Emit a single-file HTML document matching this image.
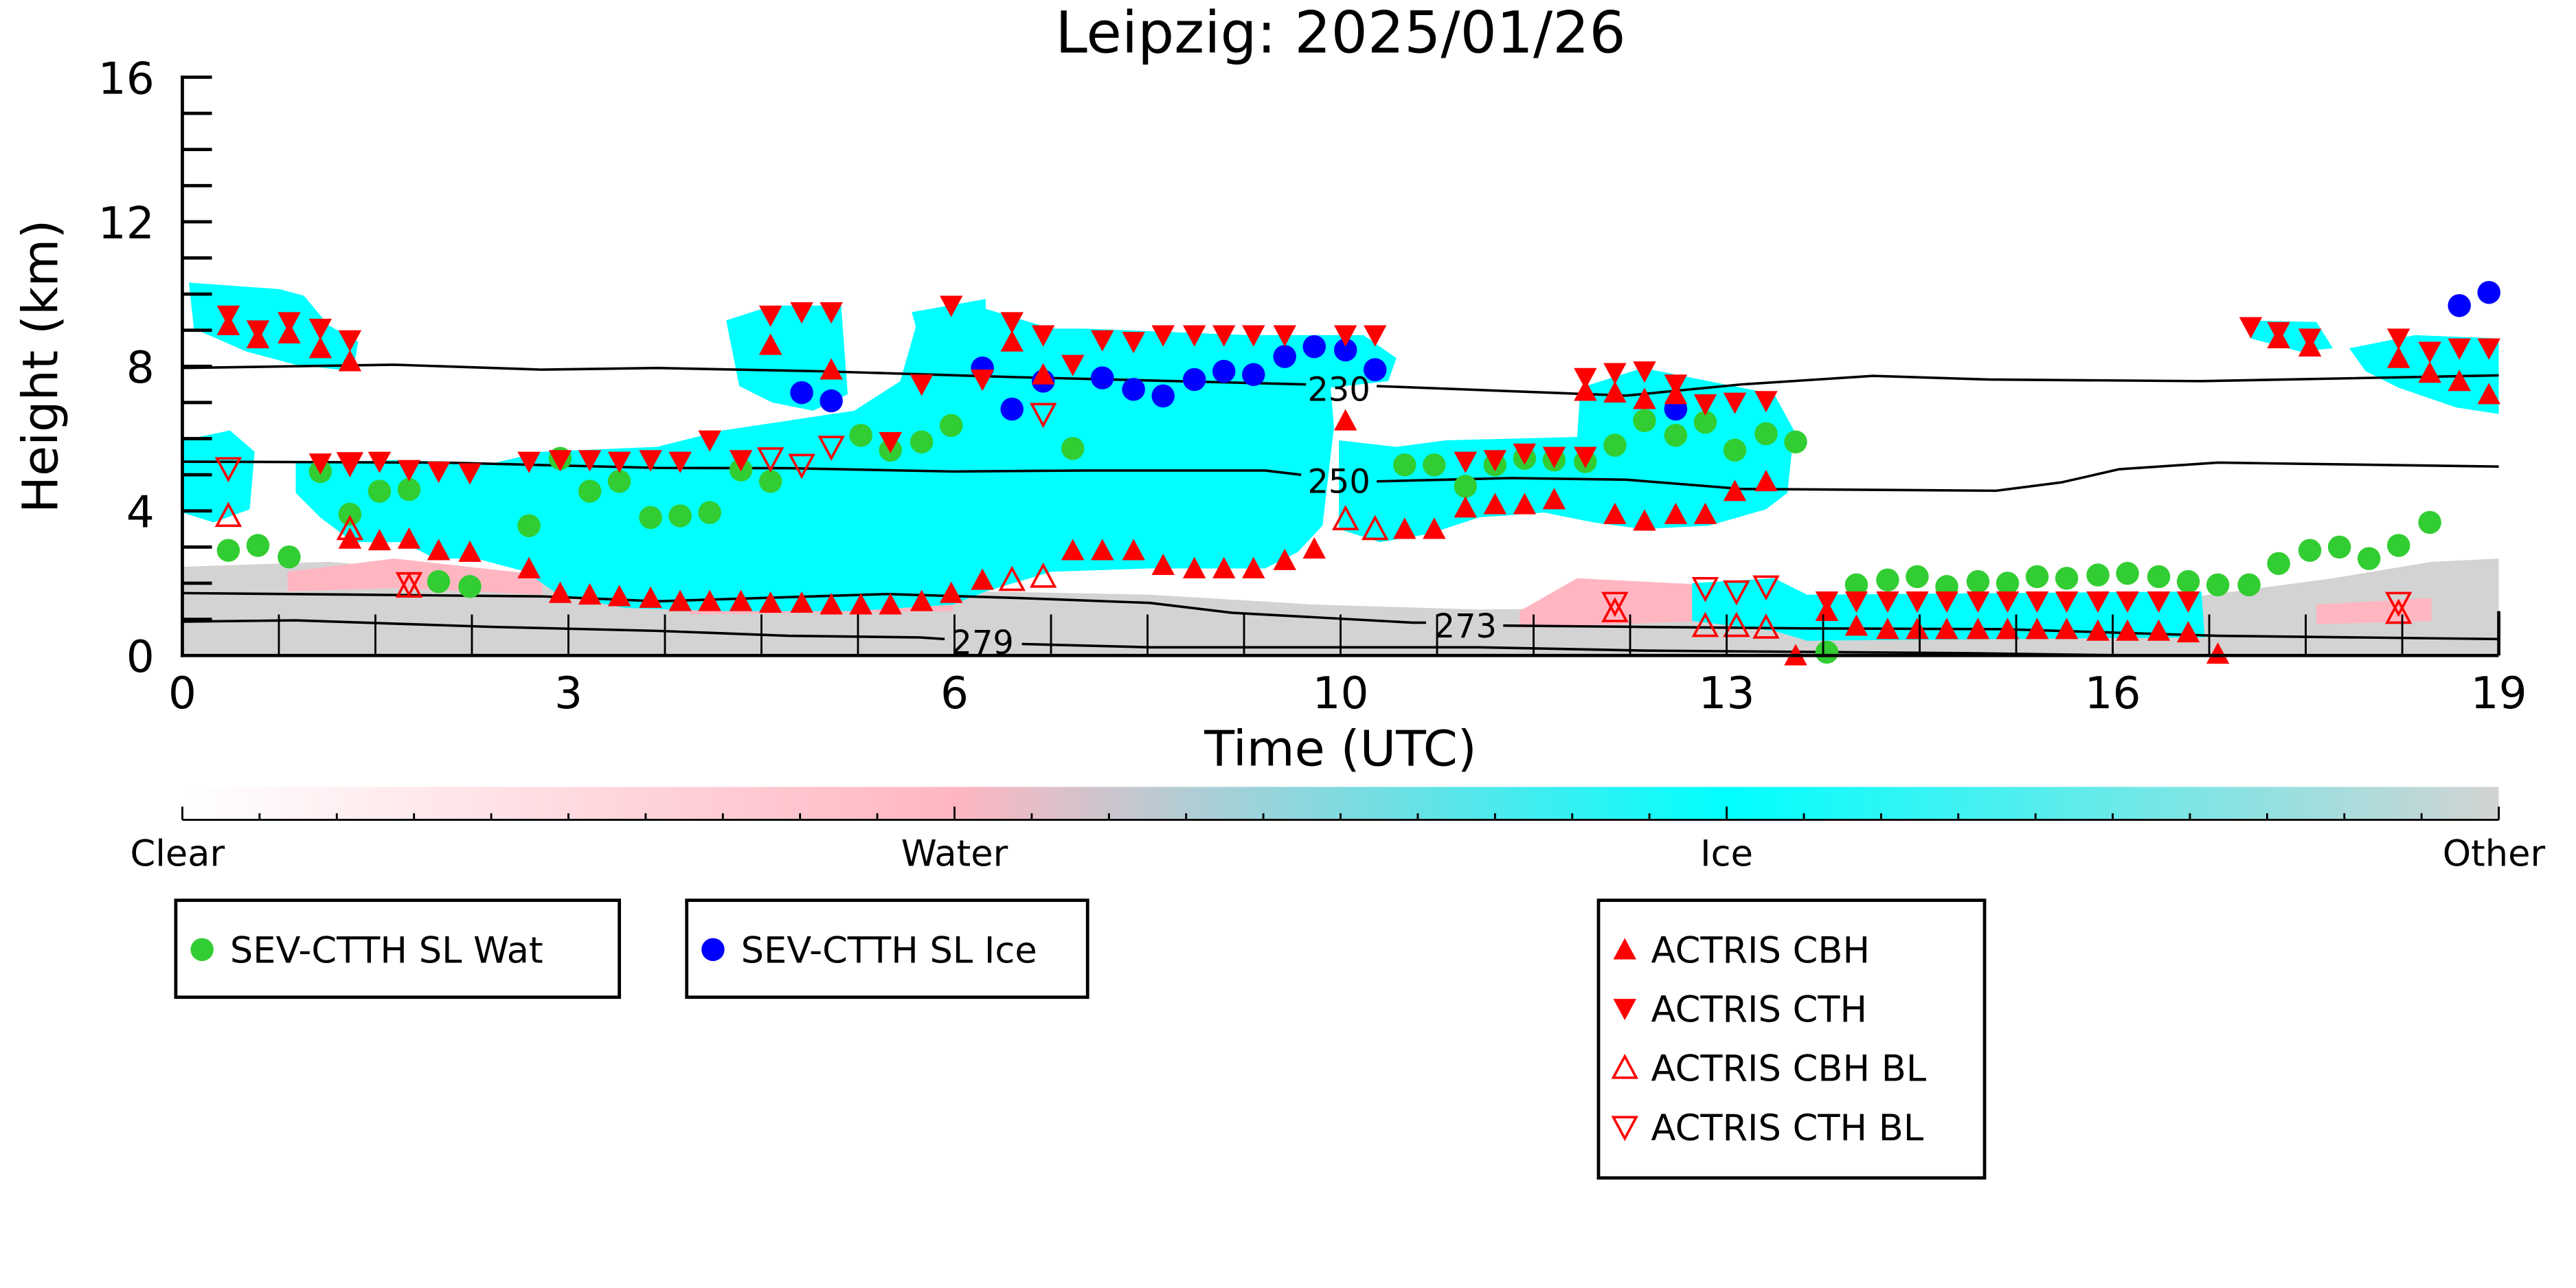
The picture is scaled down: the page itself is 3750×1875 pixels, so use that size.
<!DOCTYPE html>
<html><head><meta charset="utf-8"><style>
html,body{margin:0;padding:0;background:#fff}
svg{display:block}
text{font-family:"DejaVu Sans","Liberation Sans",sans-serif}
</style></head><body>
<svg width="3750" height="1875" viewBox="0 0 1568 784" xmlns="http://www.w3.org/2000/svg">
<defs>
<linearGradient id="cb" x1="0" x2="1" y1="0" y2="0">
<stop offset="0" stop-color="#ffffff"/>
<stop offset="0.333" stop-color="#ffb6c1"/>
<stop offset="0.667" stop-color="#00ffff"/>
<stop offset="1" stop-color="#d3d3d3"/>
</linearGradient>
<clipPath id="ax"><rect x="111" y="47" width="1410" height="352"/></clipPath>
<path id="up" d="M0,-7 L7,6 L-7,6 Z"/>
<path id="dn" d="M0,7 L7,-6 L-7,-6 Z"/>
</defs>
<text x="816" y="32" font-size="35" text-anchor="middle">Leipzig: 2025/01/26</text>
<g clip-path="url(#ax)">
<path fill="#d3d3d3" d="M111,345 L200,342 L300,350 L400,356 L500,362 L600,360 L700,362 L800,368 L900,371 L1000,370 L1100,372 L1200,370 L1300,368 L1360,360 L1420,352 L1480,342 L1521,340 L1521,399 L111,399 Z"/>
<path fill="#ffb6c1" d="M175,348 L240,340 L330,350 L330,362 L240,358 L175,360 Z"/>
<path fill="#ffb6c1" d="M420,356 L580,352 L580,372 L420,374 Z"/>
<path fill="#ffb6c1" d="M925,372 L960,352 L1040,356 L1040,378 L925,382 Z"/>
<path fill="#ffb6c1" d="M1090,368 L1340,366 L1340,380 L1090,384 Z"/>
<path fill="#ffb6c1" d="M1410,368 L1480,364 L1480,378 L1410,380 Z"/>
<g fill="#00ffff">
<path d="M115,172 L170,176 L185,180 L200,198 L218,208 L215,226 L180,222 L150,214 L118,200 Z"/>
<path d="M111,268 L140,262 L155,275 L152,310 L130,318 L111,312 Z"/>
<path d="M180,282 L240,280 L300,282 L330,275 L400,272 L440,262 L520,250 L548,232 L560,190 L600,188 L640,200 L660,200 L760,204 L830,204 L850,218 L845,232 L810,236 L812,260 L805,320 L790,336 L770,346 L700,346 L640,348 L600,360 L580,368 L520,372 L440,372 L380,370 L340,362 L320,348 L290,340 L265,340 L245,330 L215,330 L195,315 L180,300 Z"/>
<path d="M442,195 L470,186 L512,186 L516,240 L495,250 L470,245 L450,235 Z"/>
<path d="M555,190 L600,182 L600,200 L560,208 Z"/>
<path d="M815,268 L850,272 L880,268 L960,266 L962,236 L1000,224 L1040,232 L1080,240 L1092,262 L1088,300 L1075,310 L1040,320 L1000,322 L970,318 L940,312 L900,315 L870,325 L840,330 L815,322 Z"/>
<path d="M1030,355 L1080,352 L1100,362 L1340,360 L1342,388 L1100,390 L1080,384 L1030,378 Z"/>
<path d="M1430,212 L1470,204 L1521,206 L1521,252 L1495,248 L1460,236 L1440,226 Z"/>
<path d="M1365,195 L1410,196 L1420,212 L1400,214 L1370,206 Z"/>
</g>
</g>
<g fill="none" stroke="#000" stroke-width="1.5">
<polyline points="111,224 240,222 330,225 400,224 500,226 620,229.6 780,233.6 795,234"/>
<polyline points="838,235 990,240.8 1060,234 1140,228.8 1210,231 1340,232 1521,228.5"/>
<polyline points="111,281 270,281.6 400,284.8 480,285 580,287 660,286.4 770,286.4 792,289"/>
<polyline points="838,293 920,291 990,292 1060,297.6 1215,298.7 1255,293.6 1290,285.6 1350,281.6 1521,284"/>
<polyline points="111,361 330,363 400,366 540,361.6 620,364 700,367 750,373 860,379 868,379"/>
<polyline points="915,380.8 1100,382.5 1220,383 1350,387 1521,389"/>
<polyline points="111,378.4 180,377.6 300,381.6 400,384 480,387 560,388 575,389"/>
<polyline points="622,392 700,394 900,394 1000,396 1200,397.6 1300,399"/>
</g>
<g font-size="20" text-anchor="middle">
<text x="815" y="244">230</text>
<text x="815" y="300">250</text>
<text x="892" y="388">273</text>
<text x="598" y="398">279</text>
</g>
<g fill="#32cd32">
<circle cx="139" cy="335" r="7"/><circle cx="157" cy="332" r="7"/><circle cx="176" cy="339" r="7"/><circle cx="195" cy="287" r="7"/><circle cx="213" cy="313" r="7"/><circle cx="231" cy="299" r="7"/><circle cx="249" cy="298" r="7"/><circle cx="267" cy="354" r="7"/><circle cx="286" cy="357" r="7"/><circle cx="322" cy="320" r="7"/><circle cx="341" cy="279" r="7"/><circle cx="359" cy="299" r="7"/><circle cx="377" cy="293" r="7"/><circle cx="396" cy="315" r="7"/><circle cx="414" cy="314" r="7"/><circle cx="432" cy="312" r="7"/><circle cx="451" cy="286" r="7"/><circle cx="469" cy="293" r="7"/><circle cx="524" cy="265" r="7"/><circle cx="542" cy="274" r="7"/><circle cx="561" cy="269" r="7"/><circle cx="579" cy="259" r="7"/><circle cx="653" cy="273" r="7"/><circle cx="855" cy="283" r="7"/><circle cx="873" cy="283" r="7"/><circle cx="892" cy="296" r="7"/><circle cx="910" cy="283" r="7"/><circle cx="928" cy="279" r="7"/><circle cx="946" cy="280" r="7"/><circle cx="965" cy="281" r="7"/><circle cx="983" cy="271" r="7"/><circle cx="1001" cy="256" r="7"/><circle cx="1020" cy="265" r="7"/><circle cx="1038" cy="257" r="7"/><circle cx="1056" cy="274" r="7"/><circle cx="1075" cy="264" r="7"/><circle cx="1093" cy="269" r="7"/><circle cx="1112" cy="397" r="7"/><circle cx="1130" cy="356" r="7"/><circle cx="1149" cy="353" r="7"/><circle cx="1167" cy="351" r="7"/><circle cx="1185" cy="357" r="7"/><circle cx="1204" cy="354" r="7"/><circle cx="1222" cy="355" r="7"/><circle cx="1240" cy="351" r="7"/><circle cx="1258" cy="352" r="7"/><circle cx="1277" cy="350" r="7"/><circle cx="1295" cy="349" r="7"/><circle cx="1314" cy="351" r="7"/><circle cx="1332" cy="354" r="7"/><circle cx="1350" cy="356" r="7"/><circle cx="1369" cy="356" r="7"/><circle cx="1387" cy="343" r="7"/><circle cx="1406" cy="335" r="7"/><circle cx="1424" cy="333" r="7"/><circle cx="1442" cy="340" r="7"/><circle cx="1460" cy="332" r="7"/><circle cx="1479" cy="318" r="7"/>
</g>
<g fill="#0000ff">
<circle cx="488" cy="239" r="7"/><circle cx="506" cy="244" r="7"/><circle cx="598" cy="224" r="7"/><circle cx="616" cy="249" r="7"/><circle cx="635" cy="232" r="7"/><circle cx="671" cy="230" r="7"/><circle cx="690" cy="237" r="7"/><circle cx="708" cy="241" r="7"/><circle cx="727" cy="231" r="7"/><circle cx="745" cy="226" r="7"/><circle cx="763" cy="228" r="7"/><circle cx="782" cy="217" r="7"/><circle cx="800" cy="211" r="7"/><circle cx="819" cy="213" r="7"/><circle cx="837" cy="225" r="7"/><circle cx="1020" cy="249" r="7"/><circle cx="1497" cy="186" r="7"/><circle cx="1515" cy="178" r="7"/>
</g>
<g fill="#ff0000">
<use href="#dn" x="139" y="192"/><use href="#dn" x="157" y="201"/><use href="#dn" x="176" y="196"/><use href="#dn" x="195" y="200"/><use href="#dn" x="213" y="207"/><use href="#dn" x="469" y="192"/><use href="#dn" x="488" y="190"/><use href="#dn" x="506" y="190"/><use href="#dn" x="579" y="186"/><use href="#dn" x="616" y="196"/><use href="#dn" x="635" y="204"/><use href="#dn" x="653" y="222"/><use href="#dn" x="671" y="207"/><use href="#dn" x="690" y="208"/><use href="#dn" x="708" y="204"/><use href="#dn" x="727" y="204"/><use href="#dn" x="745" y="204"/><use href="#dn" x="763" y="204"/><use href="#dn" x="782" y="204"/><use href="#dn" x="819" y="204"/><use href="#dn" x="837" y="204"/><use href="#dn" x="965" y="230"/><use href="#dn" x="983" y="227"/><use href="#dn" x="1001" y="226"/><use href="#dn" x="1020" y="234"/><use href="#dn" x="1038" y="246"/><use href="#dn" x="1056" y="245"/><use href="#dn" x="1075" y="244"/><use href="#dn" x="1370" y="199"/><use href="#dn" x="1387" y="202"/><use href="#dn" x="1406" y="206"/><use href="#dn" x="1460" y="206"/><use href="#dn" x="1479" y="214"/><use href="#dn" x="1497" y="212"/><use href="#dn" x="1515" y="212"/>
<use href="#dn" x="195" y="282"/><use href="#dn" x="213" y="282"/><use href="#dn" x="231" y="281"/><use href="#dn" x="249" y="286"/><use href="#dn" x="267" y="287"/><use href="#dn" x="286" y="288"/><use href="#dn" x="322" y="281"/><use href="#dn" x="341" y="280"/><use href="#dn" x="359" y="280"/><use href="#dn" x="377" y="281"/><use href="#dn" x="396" y="280"/><use href="#dn" x="414" y="281"/><use href="#dn" x="432" y="268"/><use href="#dn" x="451" y="280"/><use href="#dn" x="542" y="269"/><use href="#dn" x="561" y="234"/><use href="#dn" x="598" y="231"/><use href="#dn" x="892" y="281"/><use href="#dn" x="910" y="280"/><use href="#dn" x="928" y="276"/><use href="#dn" x="946" y="278"/><use href="#dn" x="965" y="278"/>
<use href="#dn" x="1112" y="366"/><use href="#dn" x="1130" y="366"/><use href="#dn" x="1149" y="366"/><use href="#dn" x="1167" y="366"/><use href="#dn" x="1185" y="366"/><use href="#dn" x="1204" y="366"/><use href="#dn" x="1222" y="366"/><use href="#dn" x="1240" y="366"/><use href="#dn" x="1258" y="366"/><use href="#dn" x="1277" y="366"/><use href="#dn" x="1295" y="366"/><use href="#dn" x="1314" y="366"/><use href="#dn" x="1332" y="366"/>
<use href="#up" x="139" y="198"/><use href="#up" x="157" y="206"/><use href="#up" x="176" y="203"/><use href="#up" x="195" y="212"/><use href="#up" x="213" y="220"/><use href="#up" x="469" y="210"/><use href="#up" x="506" y="225"/><use href="#up" x="616" y="208"/><use href="#up" x="635" y="228"/><use href="#up" x="819" y="256"/><use href="#up" x="965" y="238"/><use href="#up" x="983" y="239"/><use href="#up" x="1001" y="243"/><use href="#up" x="1020" y="240"/><use href="#up" x="1387" y="206"/><use href="#up" x="1406" y="211"/><use href="#up" x="1460" y="218"/><use href="#up" x="1479" y="227"/><use href="#up" x="1497" y="232"/><use href="#up" x="1515" y="240"/>
<use href="#up" x="213" y="328"/><use href="#up" x="231" y="329"/><use href="#up" x="249" y="328"/><use href="#up" x="267" y="335"/><use href="#up" x="286" y="336"/><use href="#up" x="322" y="346"/><use href="#up" x="341" y="361"/><use href="#up" x="359" y="362"/><use href="#up" x="377" y="363"/><use href="#up" x="396" y="364"/><use href="#up" x="414" y="366"/><use href="#up" x="432" y="366"/><use href="#up" x="451" y="366"/><use href="#up" x="469" y="367"/><use href="#up" x="488" y="367"/><use href="#up" x="506" y="368"/><use href="#up" x="524" y="368"/><use href="#up" x="542" y="368"/><use href="#up" x="561" y="366"/><use href="#up" x="579" y="361"/><use href="#up" x="598" y="353"/><use href="#up" x="653" y="335"/><use href="#up" x="671" y="335"/><use href="#up" x="690" y="335"/><use href="#up" x="708" y="344"/><use href="#up" x="727" y="346"/><use href="#up" x="745" y="346"/><use href="#up" x="763" y="346"/><use href="#up" x="782" y="341"/><use href="#up" x="800" y="334"/><use href="#up" x="855" y="322"/><use href="#up" x="873" y="322"/><use href="#up" x="892" y="309"/><use href="#up" x="910" y="307"/><use href="#up" x="928" y="307"/><use href="#up" x="946" y="304"/><use href="#up" x="983" y="313"/><use href="#up" x="1001" y="317"/><use href="#up" x="1020" y="313"/><use href="#up" x="1038" y="313"/><use href="#up" x="1056" y="299"/><use href="#up" x="1075" y="293"/>
<use href="#up" x="1112" y="372"/><use href="#up" x="1130" y="381"/><use href="#up" x="1149" y="383"/><use href="#up" x="1167" y="383"/><use href="#up" x="1185" y="383"/><use href="#up" x="1204" y="383"/><use href="#up" x="1222" y="383"/><use href="#up" x="1240" y="383"/><use href="#up" x="1258" y="383"/><use href="#up" x="1277" y="384"/><use href="#up" x="1295" y="384"/><use href="#up" x="1314" y="384"/><use href="#up" x="1332" y="385"/><use href="#up" x="1093" y="399"/><use href="#up" x="1350" y="398"/>
</g>
<g fill="none" stroke="#ff0000" stroke-width="1.5">
<use href="#up" x="139" y="314"/><use href="#up" x="213" y="322"/><use href="#up" x="249" y="357"/><use href="#up" x="616" y="353"/><use href="#up" x="635" y="351"/><use href="#up" x="837" y="322"/><use href="#up" x="819" y="316"/><use href="#up" x="983" y="372"/><use href="#up" x="1038" y="381"/><use href="#up" x="1057" y="381"/><use href="#up" x="1075" y="382"/><use href="#up" x="1460" y="373"/>
<use href="#dn" x="139" y="285"/><use href="#dn" x="213" y="282"/><use href="#dn" x="249" y="355"/><use href="#dn" x="469" y="279"/><use href="#dn" x="488" y="283"/><use href="#dn" x="506" y="272"/><use href="#dn" x="635" y="252"/><use href="#dn" x="983" y="367"/><use href="#dn" x="1038" y="358"/><use href="#dn" x="1057" y="360"/><use href="#dn" x="1075" y="357"/><use href="#dn" x="1460" y="367"/>
</g>
<g stroke="#000" stroke-width="2" fill="none">
<line x1="111" y1="46" x2="111" y2="400"/>
<line x1="110" y1="399" x2="1521" y2="399"/>
<line x1="1521" y1="372" x2="1521" y2="399"/>
<path d="M111,47h18M111,69h18M111,91h18M111,113h18M111,135h18M111,157h18M111,179h18M111,201h18M111,223h18M111,245h18M111,267h18M111,289h18M111,311h18M111,333h18M111,355h18M111,377h18"/>
</g>
<g stroke="#000" stroke-width="1.2">
<path d="M169.75,399v-25M228.5,399v-25M287.25,399v-25M346,399v-25M404.75,399v-25M463.5,399v-25M522.25,399v-25M581,399v-25M639.75,399v-25M698.5,399v-25M757.25,399v-25M816,399v-25M874.75,399v-25M933.5,399v-25M992.25,399v-25M1051,399v-25M1109.75,399v-25M1168.5,399v-25M1227.25,399v-25M1286,399v-25M1344.75,399v-25M1403.5,399v-25M1462.25,399v-25"/>
</g>
<g font-size="27" text-anchor="end">
<text x="94" y="57">16</text><text x="94" y="145">12</text><text x="94" y="233">8</text><text x="94" y="321">4</text><text x="94" y="409">0</text>
</g>
<g font-size="27" text-anchor="middle">
<text x="111" y="431">0</text><text x="346" y="431">3</text><text x="581" y="431">6</text><text x="816" y="431">10</text><text x="1051" y="431">13</text><text x="1286" y="431">16</text><text x="1521" y="431">19</text>
</g>
<text x="816" y="466" font-size="30" text-anchor="middle">Time (UTC)</text>
<text x="0" y="0" font-size="30" text-anchor="middle" transform="translate(35,223) rotate(-90)">Height (km)</text>
<rect x="111" y="479" width="1410" height="20" fill="url(#cb)"/>
<g stroke="#000" stroke-width="1.2">
<line x1="111" y1="499" x2="1521" y2="499"/>
<path d="M158,499v-4M205,499v-4M252,499v-4M299,499v-4M346,499v-4M393,499v-4M440,499v-4M487,499v-4M534,499v-4M628,499v-4M675,499v-4M722,499v-4M769,499v-4M816,499v-4M863,499v-4M910,499v-4M957,499v-4M1004,499v-4M1098,499v-4M1145,499v-4M1192,499v-4M1239,499v-4M1286,499v-4M1333,499v-4M1380,499v-4M1427,499v-4M1474,499v-4"/>
<path d="M111,499v-8M581,499v-8M1051,499v-8M1521,499v-8"/>
</g>
<g font-size="22" text-anchor="middle">
<text x="108" y="527">Clear</text><text x="581" y="527">Water</text><text x="1051" y="527">Ice</text><text x="1518" y="527">Other</text>
</g>
<g fill="#fff" stroke="#000" stroke-width="2">
<rect x="107" y="548" width="270" height="59"/>
<rect x="418" y="548" width="244" height="59"/>
<rect x="973" y="548" width="235" height="169"/>
</g>
<g font-size="22">
<circle cx="123" cy="578" r="7" fill="#32cd32"/><text x="140" y="586">SEV-CTTH SL Wat</text>
<circle cx="434" cy="578" r="7" fill="#0000ff"/><text x="451" y="586">SEV-CTTH SL Ice</text>
<use href="#up" x="989" y="578" fill="#ff0000"/><text x="1005" y="586">ACTRIS CBH</text>
<use href="#dn" x="989" y="614" fill="#ff0000"/><text x="1005" y="622">ACTRIS CTH</text>
<use href="#up" x="989" y="650" fill="none" stroke="#ff0000" stroke-width="1.5"/><text x="1005" y="658">ACTRIS CBH BL</text>
<use href="#dn" x="989" y="686" fill="none" stroke="#ff0000" stroke-width="1.5"/><text x="1005" y="694">ACTRIS CTH BL</text>
</g>
</svg>
</body></html>
